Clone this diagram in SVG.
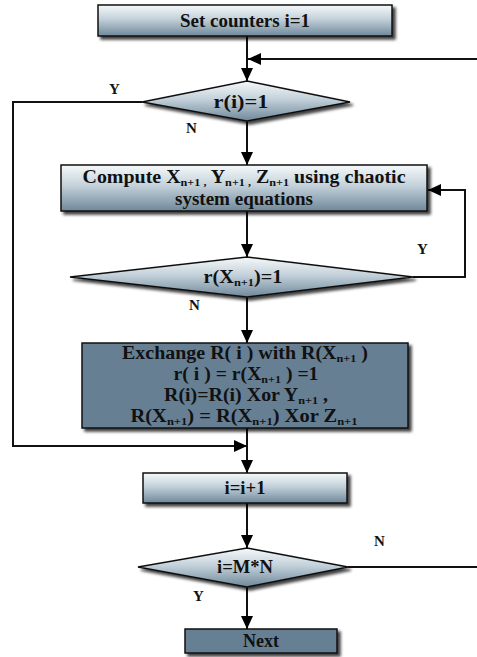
<svg xmlns="http://www.w3.org/2000/svg" width="477" height="657" viewBox="0 0 477 657">
<defs>
<linearGradient id="lg" x1="0" y1="0" x2="0" y2="1">
<stop offset="0" stop-color="#f6f9fa"/>
<stop offset="0.45" stop-color="#c3d1da"/>
<stop offset="1" stop-color="#6f889a"/>
</linearGradient>
<filter id="sh" x="-10%" y="-20%" width="125%" height="160%">
<feDropShadow dx="3" dy="3" stdDeviation="1.5" flood-color="#000" flood-opacity="0.75"/>
</filter>
<marker id="ah" markerUnits="userSpaceOnUse" markerWidth="14" markerHeight="12" refX="13" refY="6" orient="auto">
<path d="M0,0 L13,6 L0,12 Z" fill="#000"/>
</marker>
<style>
.light{fill:url(#lg);stroke:#111;stroke-width:1.5;filter:url(#sh)}
.dark{fill:#667f93;stroke:#111;stroke-width:1.5;filter:url(#sh)}
.t{font-family:"Liberation Serif","Times New Roman",serif;font-weight:bold;font-size:18px;fill:#111;text-anchor:middle}
.lbl{font-family:"Liberation Serif","Times New Roman",serif;font-weight:bold;font-size:15px;fill:#111}
.sub{font-size:11px}
.c{fill:none;stroke:#111;stroke-width:2}
.a{fill:none;stroke:#111;stroke-width:2;marker-end:url(#ah)}
</style>
</defs>
<rect width="477" height="657" fill="#fff"/>

<g id="connectors">
<path class="a" d="M247,36 L247,81"/>
<path class="a" d="M477,59 L248,59"/>
<path class="c" d="M142,102 L13,102 L13,446 L160,446"/>
<path class="a" d="M160,446 L247,446"/>
<path class="a" d="M247,121 L247,165"/>
<path class="a" d="M247,211 L247,257"/>
<path class="c" d="M413,277 L465,277 L465,190 L440,190"/>
<path class="a" d="M440,190 L428,190"/>
<path class="a" d="M247,297 L247,343"/>
<path class="a" d="M247,428 L247,473"/>
<path class="a" d="M247,503 L247,548"/>
<path class="c" d="M348,567 L477,567"/>
<path class="a" d="M247,587 L247,629"/>
<text class="lbl" x="109" y="94">Y</text>
<text class="lbl" x="186" y="133">N</text>
<text class="lbl" x="417" y="254">Y</text>
<text class="lbl" x="189" y="310">N</text>
<text class="lbl" x="374" y="546">N</text>
<text class="lbl" x="193" y="601">Y</text>
</g>

<g id="set-counters">
<rect class="light" x="98" y="5" width="294" height="31"/>
<text class="t" x="245" y="27" textLength="130" lengthAdjust="spacingAndGlyphs">Set counters i=1</text>
</g>

<g id="decision-r-i">
<polygon class="light" points="247,81 350,102 247,121 142,102"/>
<text class="t" x="241" y="108" textLength="55" lengthAdjust="spacingAndGlyphs">r(i)=1</text>
</g>

<g id="compute">
<rect class="light" x="61" y="165" width="366" height="46"/>
<text class="t" x="244" y="183" textLength="323" lengthAdjust="spacingAndGlyphs">Compute X<tspan class="sub" dy="3">n+1 ,</tspan><tspan dy="-3"> Y</tspan><tspan class="sub" dy="3">n+1 ,</tspan><tspan dy="-3"> Z</tspan><tspan class="sub" dy="3">n+1</tspan><tspan dy="-3"> using chaotic</tspan></text>
<text class="t" x="244" y="205" textLength="138" lengthAdjust="spacingAndGlyphs">system equations</text>
</g>

<g id="decision-r-x">
<polygon class="light" points="247,257 413,277 247,297 70,277"/>
<text class="t" x="243" y="283" textLength="79" lengthAdjust="spacingAndGlyphs">r(X<tspan class="sub" dy="3">n+1</tspan><tspan dy="-3">)=1</tspan></text>
</g>

<g id="exchange">
<rect class="dark" x="82" y="343" width="326" height="85"/>
<text class="t" x="245" y="359" textLength="246" lengthAdjust="spacingAndGlyphs">Exchange  R( i ) with R(X<tspan class="sub" dy="3">n+1</tspan><tspan dy="-3"> )</tspan></text>
<text class="t" x="246" y="380" textLength="145" lengthAdjust="spacingAndGlyphs">r( i  ) = r(X<tspan class="sub" dy="3">n+1</tspan><tspan dy="-3"> ) =1</tspan></text>
<text class="t" x="246" y="401" textLength="164" lengthAdjust="spacingAndGlyphs">R(i)=R(i) Xor Y<tspan class="sub" dy="3">n+1</tspan><tspan dy="-3"> ,</tspan></text>
<text class="t" x="244" y="422" textLength="227" lengthAdjust="spacingAndGlyphs">R(X<tspan class="sub" dy="3">n+1</tspan><tspan dy="-3">) = R(X</tspan><tspan class="sub" dy="3">n+1</tspan><tspan dy="-3">)  Xor Z</tspan><tspan class="sub" dy="3">n+1</tspan></text>
</g>

<g id="increment">
<rect class="light" x="143" y="473" width="204" height="30"/>
<text class="t" x="245" y="494" textLength="41" lengthAdjust="spacingAndGlyphs">i=i+1</text>
</g>

<g id="decision-mn">
<polygon class="light" points="247,548 348,567 247,587 138,567"/>
<text class="t" x="245" y="573" textLength="56" lengthAdjust="spacingAndGlyphs">i=M*N</text>
</g>

<g id="next">
<rect class="dark" x="185" y="629" width="152" height="24"/>
<text class="t" x="261" y="647" textLength="36" lengthAdjust="spacingAndGlyphs">Next</text>
</g>
</svg>
